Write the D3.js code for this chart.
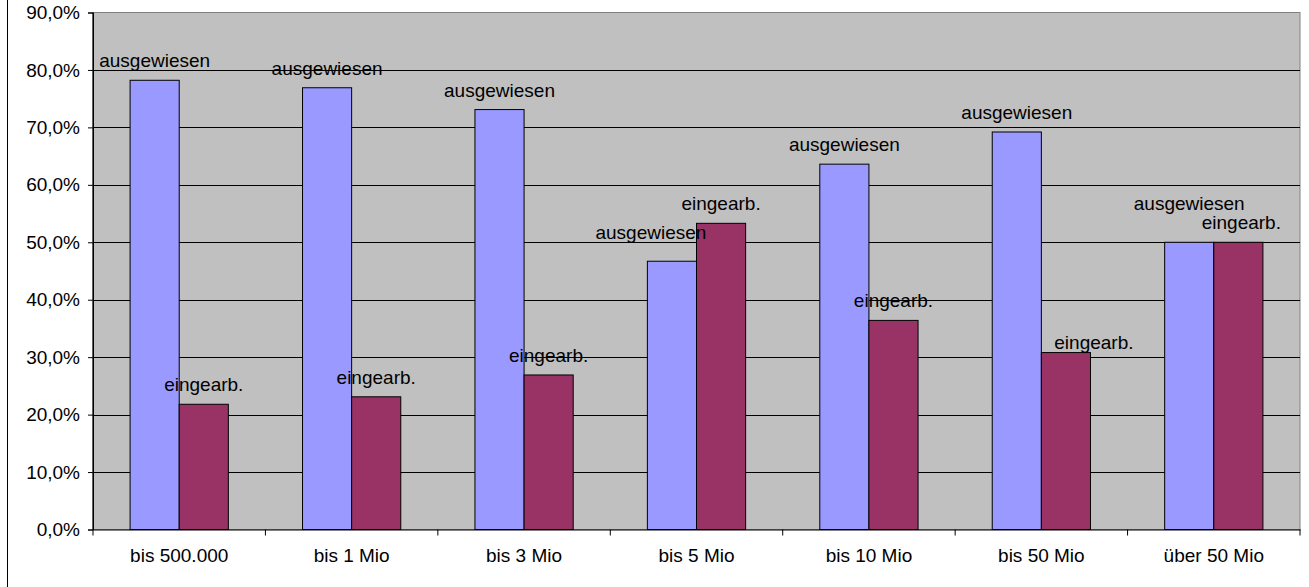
<!DOCTYPE html>
<html><head><meta charset="utf-8">
<script src="https://cdn.jsdelivr.net/npm/d3@7"></script>
<style>body{margin:0;background:#fff}svg{display:block}text{font-family:Arial,"Liberation Sans",sans-serif}</style>
</head><body>
<script>
const categories = ["bis 500.000","bis 1 Mio","bis 3 Mio","bis 5 Mio","bis 10 Mio","bis 50 Mio","über 50 Mio"];
const series = ["ausgewiesen","eingearb."];
const ausgewiesen = [78.2, 76.9, 73.1, 46.7, 63.6, 69.2, 50.0];
const eingearb = [21.8, 23.1, 26.9, 53.3, 36.4, 30.8, 50.0];
const yTicks = [0,10,20,30,40,50,60,70,80,90];
const colors = ["#9999FF","#993366"];
// manual label nudges [dx, dy] as in the original chart
const labelNudgeA = [[0,0],[0,0],[0,0],[-21,-9],[0,0],[0,0],[0,-19]];
const labelNudgeE = [[0,0],[0,0],[0,0],[0,0],[0,0],[28,9],[3,0]];

const W=1309,H=587;
const m={l:93,r:1300,t:12.5,b:529.5};
const svg=d3.select("body").append("svg").attr("width",W).attr("height",H);
svg.append("line").attr("x1",7.5).attr("x2",7.5).attr("y1",0).attr("y2",H).attr("stroke","#000");

const x=d3.scaleBand().domain(categories).range([m.l,m.r]).paddingInner(0).paddingOuter(0);
const x1=d3.scaleBand().domain(series).range([0,x.bandwidth()]).paddingOuter(0.755).paddingInner(0);
const y=d3.scaleLinear().domain([0,90]).range([m.b,m.t]);

svg.append("rect").attr("x",m.l).attr("y",m.t).attr("width",m.r-m.l).attr("height",m.b-m.t)
  .attr("fill","#C0C0C0").attr("stroke","#808080");
svg.append("g").selectAll("line").data(yTicks.slice(1,-1)).join("line")
  .attr("x1",m.l).attr("x2",m.r).attr("y1",d=>Math.round(y(d))+0.5).attr("y2",d=>Math.round(y(d))+0.5).attr("stroke","#000");

const fs="19px";
const yAxis=svg.append("g").attr("transform",`translate(${m.l},0)`)
  .call(d3.axisLeft(y).tickValues(yTicks).tickSize(5).tickPadding(8).tickFormat(d=>d.toFixed(1).replace(".",",")+"%"));
yAxis.select(".domain").attr("stroke","#000");
yAxis.selectAll("text").style("font-size",fs).attr("fill","#000").attr("font-family",null);
yAxis.selectAll("line").attr("stroke","#000");

const data=categories.map((c,i)=>({c,vals:[ausgewiesen[i],eingearb[i]],nud:[labelNudgeA[i],labelNudgeE[i]]}));
const g=svg.append("g").selectAll("g").data(data).join("g").attr("transform",d=>`translate(${x(d.c)},0)`);
g.selectAll("rect").data(d=>d.vals.map((v,k)=>({v,k}))).join("rect")
  .attr("x",d=>x1(series[d.k])).attr("width",x1.bandwidth())
  .attr("y",d=>y(d.v)).attr("height",d=>y(0)-y(d.v))
  .attr("fill",d=>colors[d.k]).attr("stroke","#000").attr("stroke-width",1);

// bottom axis
const xAxis=svg.append("g").attr("transform",`translate(0,${m.b})`)
  .call(d3.axisBottom(x).tickSize(0).tickPadding(19));
xAxis.select(".domain").attr("stroke","#000");
xAxis.selectAll("text").style("font-size",fs).attr("fill","#000").attr("font-family",null);
svg.append("g").selectAll("line").data(d3.range(categories.length+1)).join("line")
  .attr("x1",i=>m.l+i*x.bandwidth()).attr("x2",i=>m.l+i*x.bandwidth())
  .attr("y1",m.b).attr("y2",m.b+6).attr("stroke","#000");
svg.append("line").attr("x1",m.l).attr("x2",m.l).attr("y1",m.t).attr("y2",m.b).attr("stroke","#000");

// labels
g.selectAll("text.lbl").data(d=>d.vals.map((v,k)=>({v,k,n:d.nud[k]}))).join("text").attr("class","lbl")
  .attr("x",d=>x1(series[d.k])+x1.bandwidth()/2+d.n[0])
  .attr("y",d=>y(d.v)-13+d.n[1])
  .attr("text-anchor","middle").style("font-size",fs).attr("fill","#000")
  .text(d=>series[d.k]);
</script>
</body></html>
